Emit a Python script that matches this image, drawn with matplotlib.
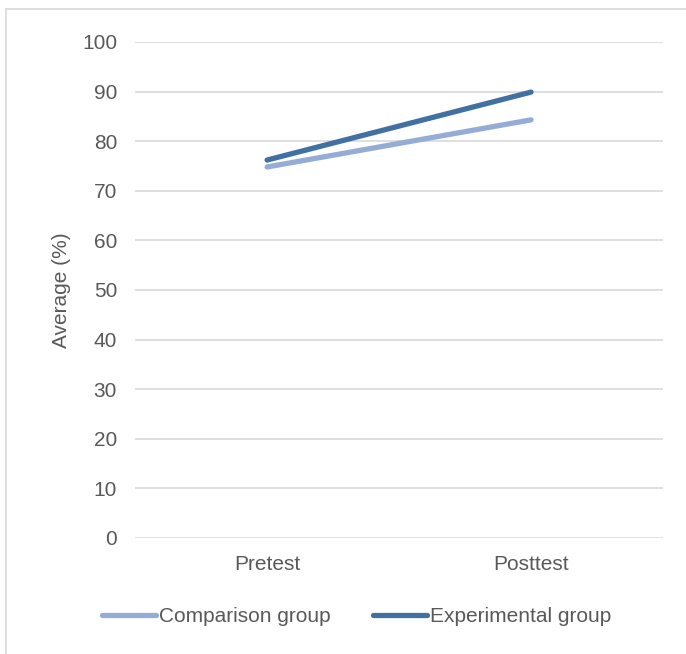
import matplotlib.pyplot as plt
from matplotlib.lines import Line2D

plt.rcParams['font.family'] = ['Liberation Sans', 'DejaVu Sans']

phases = ["Pretest", "Posttest"]
comparison = [74.8, 84.3]
experimental = [76.2, 89.9]
yticks = [0, 10, 20, 30, 40, 50, 60, 70, 80, 90, 100]

text_col = "#595959"
grid_col = "#d9d9d9"

fig = plt.figure(figsize=(6.86, 6.54), dpi=100)
ax = fig.add_axes([0.197, 0.1774, 0.7695, 0.7584])

x = list(range(len(phases)))
ax.plot(x, comparison, color="#95add6", lw=3.8, solid_capstyle="round", label="Comparison group")
ax.plot(x, experimental, color="#4170a3", lw=3.8, solid_capstyle="round", label="Experimental group")

ax.set_xlim(-0.5, 1.5)
ax.set_ylim(0, 100)
ax.set_yticks(yticks)
ax.set_xticks(x)
ax.set_xticklabels(phases)
ax.yaxis.grid(True, color=grid_col, lw=1.2)
ax.set_axisbelow(True)
for s in ax.spines.values():
    s.set_visible(False)
ax.tick_params(length=0, labelsize=15, colors=text_col)
ax.tick_params(axis="y", pad=13)
ax.tick_params(axis="x", pad=12)
ax.set_ylabel("Average (%)", fontsize=15, color=text_col, labelpad=8)

leg = fig.legend(loc="center", bbox_to_anchor=(0.52, 0.057), ncol=2, frameon=False,
                 fontsize=15, handlelength=2.6, handletextpad=0.15, columnspacing=2.0)
for t in leg.get_texts():
    t.set_color(text_col)

# outer chart frame (top and left edges)
fig.add_artist(Line2D([0.009, 1.0], [0.986, 0.986], color=grid_col, lw=1.2, transform=fig.transFigure))
fig.add_artist(Line2D([0.009, 0.009], [0.0, 0.986], color=grid_col, lw=1.2, transform=fig.transFigure))

fig.savefig("out.png", dpi=100)
